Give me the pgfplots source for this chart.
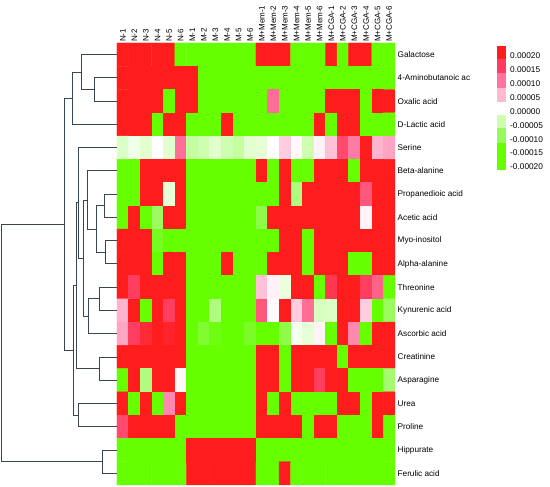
\documentclass[border=0pt]{standalone}
\usepackage{fontspec}
\setmainfont{Liberation Sans}
\usepackage{pgfplots}
\pgfplotsset{compat=1.18}
\definecolor{dendro}{RGB}{55,70,80}
\begin{document}
\begin{tikzpicture}
\path[use as bounding box] (-117pt,-2pt) rectangle (433pt,485pt);
\begin{axis}[at={(139pt,221pt)}, anchor=center, scale only axis, width=278pt, height=442pt,
 xmin=-0.5, xmax=23.5, ymin=-0.5, ymax=18.5, y dir=reverse, clip=false,
 axis line style={draw=none}, major tick length=0pt,
 xtick={0,...,23},
 xticklabels={N-1,N-2,N-3,N-4,N-5,N-6,M-1,M-2,M-3,M-4,M-5,M-6,M+Mem-1,M+Mem-2,M+Mem-3,M+Mem-4,M+Mem-5,M+Mem-6,M+CGA-1,M+CGA-2,M+CGA-3,M+CGA-4,M+CGA-5,M+CGA-6},
 xticklabel pos=upper,
 xticklabel style={rotate=90, anchor=west, font=\fontsize{8}{9}\selectfont, inner sep=1pt},
 ytick={0,...,18},
 yticklabels={Galactose,4-Aminobutanoic ac,Oxalic acid,D-Lactic acid,Serine,Beta-alanine,Propanedioic acid,Acetic acid,Myo-inositol,Alpha-alanine,Threonine,Kynurenic acid,Ascorbic acid,Creatinine,Asparagine,Urea,Proline,Hippurate,Ferulic acid},
 yticklabel pos=right,
 yticklabel style={anchor=west, font=\fontsize{8.2}{9}\selectfont, inner sep=1pt, xshift=1.5pt},
 colormap={hm}{rgb255(0pt)=(102,255,0); rgb255(1pt)=(122,252,40); rgb255(2pt)=(155,250,95); rgb255(3pt)=(205,255,175); rgb255(4pt)=(255,255,255); rgb255(5pt)=(255,192,215); rgb255(6pt)=(255,122,165); rgb255(7pt)=(255,62,95); rgb255(8pt)=(255,28,28)},
 point meta min=-2, point meta max=2,
 dendro/.style={draw=dendro, line width=1pt, no markers}]
% values in units of 1e-4
\addplot[matrix plot*, mesh/cols=24, mesh/rows=19, point meta=explicit] coordinates {
(0,0)[2] (1,0)[2] (2,0)[2] (3,0)[2] (4,0)[2] (5,0)[-2] (6,0)[-2] (7,0)[-2] (8,0)[-2] (9,0)[-2] (10,0)[-2] (11,0)[-2] (12,0)[2] (13,0)[2] (14,0)[2] (15,0)[-2] (16,0)[-2] (17,0)[-2] (18,0)[2] (19,0)[-2] (20,0)[2] (21,0)[2] (22,0)[-2] (23,0)[-2]
(0,1)[2] (1,1)[2] (2,1)[2] (3,1)[2] (4,1)[2] (5,1)[2] (6,1)[2] (7,1)[-2] (8,1)[-2] (9,1)[-2] (10,1)[-2] (11,1)[-2] (12,1)[-2] (13,1)[-2] (14,1)[-2] (15,1)[-2] (16,1)[-2] (17,1)[-2] (18,1)[-2] (19,1)[-2] (20,1)[-2] (21,1)[-2] (22,1)[-2] (23,1)[-2]
(0,2)[2] (1,2)[2] (2,2)[2] (3,2)[2] (4,2)[-2] (5,2)[2] (6,2)[2] (7,2)[-2] (8,2)[-2] (9,2)[-2] (10,2)[-2] (11,2)[-2] (12,2)[-2] (13,2)[1.1] (14,2)[-2] (15,2)[-2] (16,2)[-2] (17,2)[-2] (18,2)[2] (19,2)[2] (20,2)[2] (21,2)[-2] (22,2)[2] (23,2)[2]
(0,3)[2] (1,3)[2] (2,3)[2] (3,3)[-2] (4,3)[2] (5,3)[2] (6,3)[-2] (7,3)[-2] (8,3)[-2] (9,3)[2] (10,3)[-2] (11,3)[-2] (12,3)[-2] (13,3)[-2] (14,3)[-2] (15,3)[-2] (16,3)[-2] (17,3)[2] (18,3)[-2] (19,3)[2] (20,3)[2] (21,3)[-2] (22,3)[-2] (23,3)[-2]
(0,4)[-0.35] (1,4)[-0.15] (2,4)[-0.3] (3,4)[0] (4,4)[-0.3] (5,4)[1.1] (6,4)[-0.6] (7,4)[-0.5] (8,4)[-0.3] (9,4)[-0.5] (10,4)[-0.6] (11,4)[-0.3] (12,4)[-0.25] (13,4)[0] (14,4)[0.4] (15,4)[0.05] (16,4)[-0.5] (17,4)[0.1] (18,4)[0.5] (19,4)[1.4] (20,4)[1] (21,4)[2] (22,4)[0.6] (23,4)[0.7]
(0,5)[-2] (1,5)[-2] (2,5)[2] (3,5)[2] (4,5)[2] (5,5)[2] (6,5)[-2] (7,5)[-2] (8,5)[-2] (9,5)[-2] (10,5)[-2] (11,5)[-2] (12,5)[2] (13,5)[-2] (14,5)[2] (15,5)[-2] (16,5)[-2] (17,5)[2] (18,5)[2] (19,5)[2] (20,5)[-2] (21,5)[2] (22,5)[2] (23,5)[2]
(0,6)[-2] (1,6)[-2] (2,6)[2] (3,6)[2] (4,6)[-0.25] (5,6)[2] (6,6)[-2] (7,6)[-2] (8,6)[-2] (9,6)[-2] (10,6)[-2] (11,6)[-2] (12,6)[-2] (13,6)[-2] (14,6)[2] (15,6)[-0.8] (16,6)[2] (17,6)[2] (18,6)[2] (19,6)[2] (20,6)[2] (21,6)[1.3] (22,6)[2] (23,6)[2]
(0,7)[-2] (1,7)[2] (2,7)[-2] (3,7)[-1] (4,7)[2] (5,7)[2] (6,7)[-2] (7,7)[-2] (8,7)[-2] (9,7)[-2] (10,7)[-2] (11,7)[-2] (12,7)[-1.2] (13,7)[2] (14,7)[2] (15,7)[2] (16,7)[2] (17,7)[2] (18,7)[2] (19,7)[2] (20,7)[2] (21,7)[0.1] (22,7)[2] (23,7)[2]
(0,8)[2] (1,8)[2] (2,8)[2] (3,8)[-1.6] (4,8)[-2] (5,8)[-2] (6,8)[-2] (7,8)[-2] (8,8)[-2] (9,8)[-2] (10,8)[-2] (11,8)[-2] (12,8)[-2] (13,8)[-2] (14,8)[2] (15,8)[2] (16,8)[-2] (17,8)[2] (18,8)[2] (19,8)[2] (20,8)[2] (21,8)[2] (22,8)[2] (23,8)[2]
(0,9)[2] (1,9)[2] (2,9)[2] (3,9)[-2] (4,9)[2] (5,9)[2] (6,9)[-2] (7,9)[-2] (8,9)[-2] (9,9)[2] (10,9)[-2] (11,9)[-2] (12,9)[-2] (13,9)[2] (14,9)[2] (15,9)[2] (16,9)[-2] (17,9)[2] (18,9)[2] (19,9)[2] (20,9)[-2] (21,9)[-2] (22,9)[2] (23,9)[2]
(0,10)[2] (1,10)[1.5] (2,10)[2] (3,10)[2] (4,10)[2] (5,10)[2] (6,10)[-2] (7,10)[-2] (8,10)[-2] (9,10)[-2] (10,10)[-2] (11,10)[-2] (12,10)[0.5] (13,10)[0.1] (14,10)[-0.2] (15,10)[2] (16,10)[2] (17,10)[-2] (18,10)[1.6] (19,10)[2] (20,10)[2] (21,10)[1.5] (22,10)[1.2] (23,10)[-2]
(0,11)[0.6] (1,11)[2] (2,11)[-2] (3,11)[2] (4,11)[1.5] (5,11)[2] (6,11)[-2] (7,11)[-2] (8,11)[-0.8] (9,11)[-2] (10,11)[-2] (11,11)[-2] (12,11)[1.3] (13,11)[0.05] (14,11)[2] (15,11)[0.4] (16,11)[1.1] (17,11)[-0.4] (18,11)[-0.35] (19,11)[2] (20,11)[2] (21,11)[0.4] (22,11)[-2] (23,11)[-1]
(0,12)[0.7] (1,12)[1.5] (2,12)[1.8] (3,12)[2] (4,12)[1.9] (5,12)[2] (6,12)[-2] (7,12)[-1.4] (8,12)[-1.8] (9,12)[-2] (10,12)[-2] (11,12)[-1.5] (12,12)[-2] (13,12)[-2] (14,12)[-1.2] (15,12)[-0.1] (16,12)[-0.25] (17,12)[0.1] (18,12)[-2] (19,12)[2] (20,12)[0.9] (21,12)[-2] (22,12)[2] (23,12)[2]
(0,13)[2] (1,13)[2] (2,13)[2] (3,13)[2] (4,13)[2] (5,13)[2] (6,13)[-2] (7,13)[-2] (8,13)[-2] (9,13)[-2] (10,13)[-2] (11,13)[-2] (12,13)[2] (13,13)[2] (14,13)[-2] (15,13)[2] (16,13)[2] (17,13)[2] (18,13)[2] (19,13)[-2] (20,13)[2] (21,13)[2] (22,13)[2] (23,13)[2]
(0,14)[-2] (1,14)[2] (2,14)[-0.8] (3,14)[2] (4,14)[2] (5,14)[0.05] (6,14)[-2] (7,14)[-2] (8,14)[-2] (9,14)[-2] (10,14)[-2] (11,14)[-2] (12,14)[2] (13,14)[2] (14,14)[-2] (15,14)[2] (16,14)[2] (17,14)[1.5] (18,14)[2] (19,14)[2] (20,14)[-2] (21,14)[-2] (22,14)[-2] (23,14)[-0.9]
(0,15)[2] (1,15)[-2] (2,15)[2] (3,15)[-2] (4,15)[0.9] (5,15)[2] (6,15)[-2] (7,15)[-2] (8,15)[-2] (9,15)[-2] (10,15)[-2] (11,15)[-2] (12,15)[2] (13,15)[-2] (14,15)[2] (15,15)[-2] (16,15)[-2] (17,15)[-2] (18,15)[-2] (19,15)[2] (20,15)[2] (21,15)[-2] (22,15)[2] (23,15)[2]
(0,16)[1.4] (1,16)[2] (2,16)[2] (3,16)[2] (4,16)[2] (5,16)[-2] (6,16)[-2] (7,16)[-2] (8,16)[-2] (9,16)[-2] (10,16)[-2] (11,16)[-2] (12,16)[2] (13,16)[2] (14,16)[2] (15,16)[2] (16,16)[-2] (17,16)[2] (18,16)[2] (19,16)[-2] (20,16)[-2] (21,16)[-2] (22,16)[2] (23,16)[-2]
(0,17)[-2] (1,17)[-2] (2,17)[-2] (3,17)[-2] (4,17)[-2] (5,17)[-2] (6,17)[2] (7,17)[2] (8,17)[2] (9,17)[2] (10,17)[2] (11,17)[2] (12,17)[-2] (13,17)[-2] (14,17)[-2] (15,17)[-2] (16,17)[-2] (17,17)[-2] (18,17)[-2] (19,17)[-2] (20,17)[-2] (21,17)[-2] (22,17)[-2] (23,17)[-2]
(0,18)[-2] (1,18)[-2] (2,18)[-2] (3,18)[-2] (4,18)[-2] (5,18)[-2] (6,18)[2] (7,18)[2] (8,18)[2] (9,18)[2] (10,18)[2] (11,18)[2] (12,18)[-2] (13,18)[-2] (14,18)[2] (15,18)[-2] (16,18)[-2] (17,18)[-2] (18,18)[-2] (19,18)[-2] (20,18)[-2] (21,18)[-2] (22,18)[-2] (23,18)[-2]
};
% dendrogram
\addplot[dendro] coordinates {(-0.5,1) (-2.46,1) (-2.46,2) (-0.5,2)};
\addplot[dendro] coordinates {(-0.5,0) (-3.55,0) (-3.55,1.5) (-2.46,1.5)};
\addplot[dendro] coordinates {(-3.55,0.75) (-4.33,0.75) (-4.33,3) (-0.5,3)};
\addplot[dendro] coordinates {(-0.5,6) (-1.54,6) (-1.54,7) (-0.5,7)};
\addplot[dendro] coordinates {(-0.5,8) (-1.45,8) (-1.45,9) (-0.5,9)};
\addplot[dendro] coordinates {(-1.54,6.5) (-2.31,6.5) (-2.31,8.5) (-1.45,8.5)};
\addplot[dendro] coordinates {(-0.5,5) (-3.06,5) (-3.06,7.5) (-2.31,7.5)};
\addplot[dendro] coordinates {(-0.5,10) (-2.03,10) (-2.03,11) (-0.5,11)};
\addplot[dendro] coordinates {(-2.03,10.5) (-2.98,10.5) (-2.98,12) (-0.5,12)};
\addplot[dendro] coordinates {(-3.06,6.25) (-3.41,6.25) (-3.41,11.25) (-2.98,11.25)};
\addplot[dendro] coordinates {(-0.5,4) (-3.84,4) (-3.84,8.75) (-3.41,8.75)};
\addplot[dendro] coordinates {(-0.5,13) (-1.97,13) (-1.97,14) (-0.5,14)};
\addplot[dendro] coordinates {(-3.84,6.375) (-3.98,6.375) (-3.98,13.5) (-1.97,13.5)};
\addplot[dendro] coordinates {(-0.5,15) (-3.84,15) (-3.84,16) (-0.5,16)};
\addplot[dendro] coordinates {(-3.98,9.94) (-4.27,9.94) (-4.27,15.5) (-3.84,15.5)};
\addplot[dendro] coordinates {(-4.33,1.875) (-5.03,1.875) (-5.03,12.72) (-4.27,12.72)};
\addplot[dendro] coordinates {(-0.5,17) (-1.73,17) (-1.73,18) (-0.5,18)};
\addplot[dendro] coordinates {(-5.03,7.3) (-10.43,7.3) (-10.43,17.5) (-1.73,17.5)};
\end{axis}
% colour key
\begin{axis}[at={(384.5pt,377pt)}, anchor=center, scale only axis, width=9pt, height=124pt,
 xmin=0, xmax=1, ymin=-2.108, ymax=2.349, clip=false,
 axis line style={draw=none}, major tick length=0pt, xtick=\empty,
 ytick={-2,-1.5,-1,-0.5,0,0.5,1,1.5,2},
 yticklabels={-0.00020,-0.00015,-0.00010,-0.00005,0.00000,0.00005,0.00010,0.00015,0.00020},
 yticklabel pos=right,
 yticklabel style={anchor=west, font=\fontsize{8.3}{9}\selectfont, inner sep=1pt, xshift=3pt}]
\addplot[fill={rgb,255:red,255;green,28;blue,28}, draw=none] coordinates {(0,1.881) (1,1.881) (1,2.349) (0,2.349)} -- cycle;
\addplot[fill={rgb,255:red,255;green,62;blue,95}, draw=none] coordinates {(0,1.378) (1,1.378) (1,1.881) (0,1.881)} -- cycle;
\addplot[fill={rgb,255:red,255;green,115;blue,160}, draw=none] coordinates {(0,0.839) (1,0.839) (1,1.378) (0,1.378)} -- cycle;
\addplot[fill={rgb,255:red,255;green,185;blue,210}, draw=none] coordinates {(0,0.336) (1,0.336) (1,0.839) (0,0.839)} -- cycle;
\addplot[fill={rgb,255:red,205;green,255;blue,175}, draw=none] coordinates {(0,-0.598) (1,-0.598) (1,-0.131) (0,-0.131)} -- cycle;
\addplot[fill={rgb,255:red,150;green,250;blue,90}, draw=none] coordinates {(0,-1.137) (1,-1.137) (1,-0.598) (0,-0.598)} -- cycle;
\addplot[fill={rgb,255:red,102;green,255;blue,0}, draw=none] coordinates {(0,-2.108) (1,-2.108) (1,-1.137) (0,-1.137)} -- cycle;
\end{axis}
\end{tikzpicture}
\end{document}
